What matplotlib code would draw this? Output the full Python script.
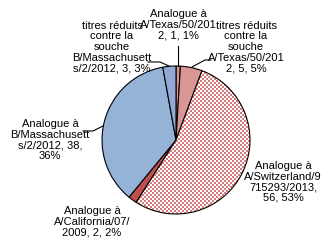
import numpy as np
import matplotlib
matplotlib.use("Agg")
import matplotlib.pyplot as plt
from matplotlib.colors import ListedColormap

labels = [
    "Analogue à\nA/Texas/50/201\n2, 1, 1%",
    "titres réduits\ncontre la\nsouche\nA/Texas/50/201\n2, 5, 5%",
    "Analogue à\nA/Switzerland/9\n715293/2013,\n56, 53%",
    "Analogue à\nA/California/07/\n2009, 2, 2%",
    "Analogue à\nB/Massachusett\ns/2/2012, 38,\n36%",
    "titres réduits\ncontre la\nsouche\nB/Massachusett\ns/2/2012, 3, 3%",
]
values = [1, 5, 56, 2, 38, 3]
colors = ["#D99694", "#D99694", "#FFFFFF", "#C0504D", "#95B3D7", "#93A8D4"]

W, H = 329, 253
fig = plt.figure(figsize=(W / 100, H / 100), dpi=100)
ax = fig.add_axes([0, 0, 1, 1])

cx, cy, r = 176, H - 141, 74
wedges, _ = ax.pie(values, colors=colors, startangle=90, counterclock=False,
                   center=(cx, cy), radius=r, frame=True,
                   wedgeprops=dict(edgecolor="black", linewidth=0.8))
ax.set_xlim(0, W)
ax.set_ylim(0, H)
ax.set_aspect("equal")
ax.axis("off")

# checker pattern for Switzerland slice
cell = 2
ny, nx = H // cell + 1, W // cell + 1
yy, xx = np.mgrid[0:ny, 0:nx]
chk = ((xx + yy) % 2).astype(float)
cmap = ListedColormap(["#FFFFFF", "#D67A7C"])
im = ax.imshow(chk, cmap=cmap, extent=(0, nx * cell, 0, ny * cell), origin="lower",
               interpolation="nearest", zorder=wedges[2].get_zorder() + 0.1)
im.set_clip_path(wedges[2])
wedges[2].set_facecolor("none")
wedges[2].set_zorder(im.get_zorder() + 0.1)

# label positions (pixel coords, image y down)
pos = [(178, 25), (246, 47), (283, 182), (92, 222), (50, 140), (112, 47)]
for lab, (x, y) in zip(labels, pos):
    ax.text(x, H - y, lab, ha="center", va="center", multialignment="center",
            fontsize=8, family="Liberation Sans", linespacing=1.08, color="black")

leaders = [
    [(178, 47), (178, 67)],
    [(192, 68), (205, 61), (211, 61)],
    [(148, 63), (160, 63), (169, 67)],
    [(83, 132), (93, 132), (103, 127)],
]
for pts in leaders:
    xs = [p[0] for p in pts]
    ys = [H - p[1] for p in pts]
    ax.plot(xs, ys, color="black", lw=0.8)

fig.savefig("out.png", dpi=100)
